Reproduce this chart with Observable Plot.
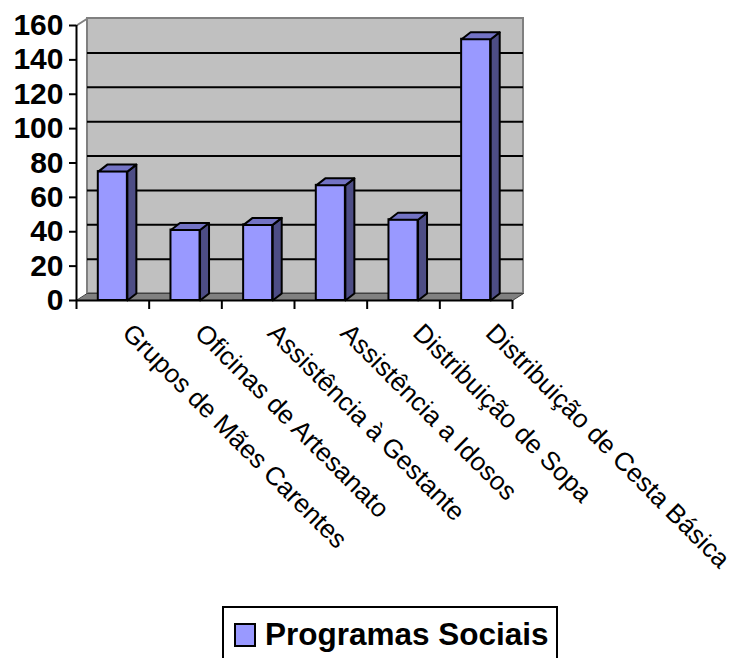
<!DOCTYPE html>
<html>
<head>
<meta charset="utf-8">
<script src="https://cdn.jsdelivr.net/npm/d3@7"></script>
<script src="https://cdn.jsdelivr.net/npm/@observablehq/plot@0.6"></script>
<style>
  html, body { margin: 0; padding: 0; background: #fff; }
  #chart { position: relative; width: 738px; height: 658px; overflow: hidden; font-family: "Liberation Sans", Arial, sans-serif; }
  #legend { position: absolute; left: 222px; top: 606px; width: 336px; height: 70px; box-sizing: border-box;
            border: 2px solid #000; background: #fff; }
  #legend .sw { position: absolute; left: 10px; top: 15px; width: 18px; height: 20px; background: #9999ff; border: 2px solid #000; }
  #legend .lb { position: absolute; left: 41px; top: 4px; font: bold 31.5px "Liberation Sans", Arial, sans-serif; line-height: 44px; color: #000; white-space: nowrap; }
</style>
</head>
<body>
<div id="chart"></div>
<script>
const categories = [
  "Grupos de Mães Carentes",
  "Oficinas de Artesanato",
  "Assistência à Gestante",
  "Assistência a Idosos",
  "Distribuição de Sopa",
  "Distribuição de Cesta Básica"
];
const values = [75, 41, 44, 67, 47, 152];
const yTicks = [0, 20, 40, 60, 80, 100, 120, 140, 160];
const seriesName = "Programas Sociais";

// layout
const W = 738, H = 600;
const mL = 76, mR = 226, mT = 25, mB = 300;
const n = categories.length;
const pxX = (W - mL - mR) / n;        // pixels per x unit
const pxY = (H - mT - mB) / 160;      // pixels per y unit
const wallDX = 11, wallDY = 7;        // depth of wall/floor in px
const barDX = 9, barDY = 7;           // depth of bars in px
const wdx = wallDX / pxX, wdy = wallDY / pxY;
const bdx = barDX / pxX, bdy = barDY / pxY;

const bars = values.map((v, i) => ({i, v, x1: i + 0.3, x2: i + 0.7, cat: categories[i]}));

const sides = bars.flatMap(b => [
  {k: b.i, x: b.x2, y: 0},
  {k: b.i, x: b.x2, y: b.v},
  {k: b.i, x: b.x2 + bdx, y: b.v + bdy},
  {k: b.i, x: b.x2 + bdx, y: bdy}
]);
const tops = bars.flatMap(b => [
  {k: b.i, x: b.x1, y: b.v},
  {k: b.i, x: b.x2, y: b.v},
  {k: b.i, x: b.x2 + bdx, y: b.v + bdy},
  {k: b.i, x: b.x1 + bdx, y: b.v + bdy}
]);
const floor = [
  {x: 0, y: 0}, {x: n, y: 0}, {x: n + wdx, y: wdy}, {x: wdx, y: wdy}
];
const sideWallTop = [{x: 0, y: 160}, {x: wdx, y: 160 + wdy}];

const xTickPos = d3.range(0, n + 1);

const marks = [
  Plot.rect([0], {x1: 0, x2: n, y1: 0, y2: 160, dx: wallDX, dy: -wallDY, fill: "#c0c0c0", stroke: "#808080", strokeWidth: 2}),
  Plot.ruleY(yTicks.filter(t => t > 0 && t < 160), {x1: 0, x2: n, dx: wallDX, dy: -wallDY, stroke: "#000", strokeWidth: 2}),
  Plot.line(floor, {x: "x", y: "y", curve: "linear-closed", fill: "#808080", stroke: "#404040", strokeWidth: 1}),
  Plot.line(sideWallTop, {x: "x", y: "y", stroke: "#808080", strokeWidth: 2}),
  Plot.rect(bars, {x1: "x1", x2: "x2", y1: 0, y2: "v", fill: "#9999ff", stroke: "#000", strokeWidth: 2}),
  Plot.line(sides, {x: "x", y: "y", z: "k", curve: "linear-closed", fill: "#4d4d85", stroke: "#000", strokeWidth: 2}),
  Plot.line(tops, {x: "x", y: "y", z: "k", curve: "linear-closed", fill: "#7373c4", stroke: "#000", strokeWidth: 2}),
  Plot.ruleX([0], {y1: 0, y2: 160, stroke: "#000", strokeWidth: 2}),
  Plot.ruleY([0], {x1: 0, x2: n, stroke: "#000", strokeWidth: 2}),
  Plot.text(bars, {x: d => d.i + 0.5, y: 0, text: "cat", rotate: 45, textAnchor: "start", dx: 14, dy: 28,
    fontSize: 26, fontWeight: "normal", fill: "#000", fontFamily: "'Liberation Sans', Arial, sans-serif"})
];

if (Plot.axisY) {
  marks.push(
    Plot.axisY({ticks: yTicks, tickSize: 7, tickPadding: 6, strokeWidth: 2, label: null, tickFormat: d => String(d),
      fontSize: 30, fontWeight: "bold"}),
    Plot.axisX({ticks: xTickPos, tickSize: 9, strokeWidth: 2, label: null, tickFormat: () => ""})
  );
}

const chart = Plot.plot({
  width: W, height: H,
  marginLeft: mL, marginRight: mR, marginTop: mT, marginBottom: mB,
  x: {type: "linear", domain: [0, n], axis: Plot.axisY ? null : "bottom", ticks: xTickPos, tickSize: 9, tickFormat: () => "", label: null},
  y: {domain: [0, 160], axis: Plot.axisY ? null : "left", ticks: yTicks, tickSize: 7, tickPadding: 6, label: null},
  style: {fontFamily: "'Liberation Sans', Arial, sans-serif", fontSize: "30px", fontWeight: "bold", color: "#000", background: "#fff", overflow: "visible"},
  marks
});

const root = document.getElementById("chart");
root.appendChild(chart);
const legend = document.createElement("div");
legend.id = "legend";
legend.innerHTML = `<div class="sw"></div><div class="lb"></div>`;
legend.querySelector(".lb").textContent = seriesName;
root.appendChild(legend);
</script>
</body>
</html>
